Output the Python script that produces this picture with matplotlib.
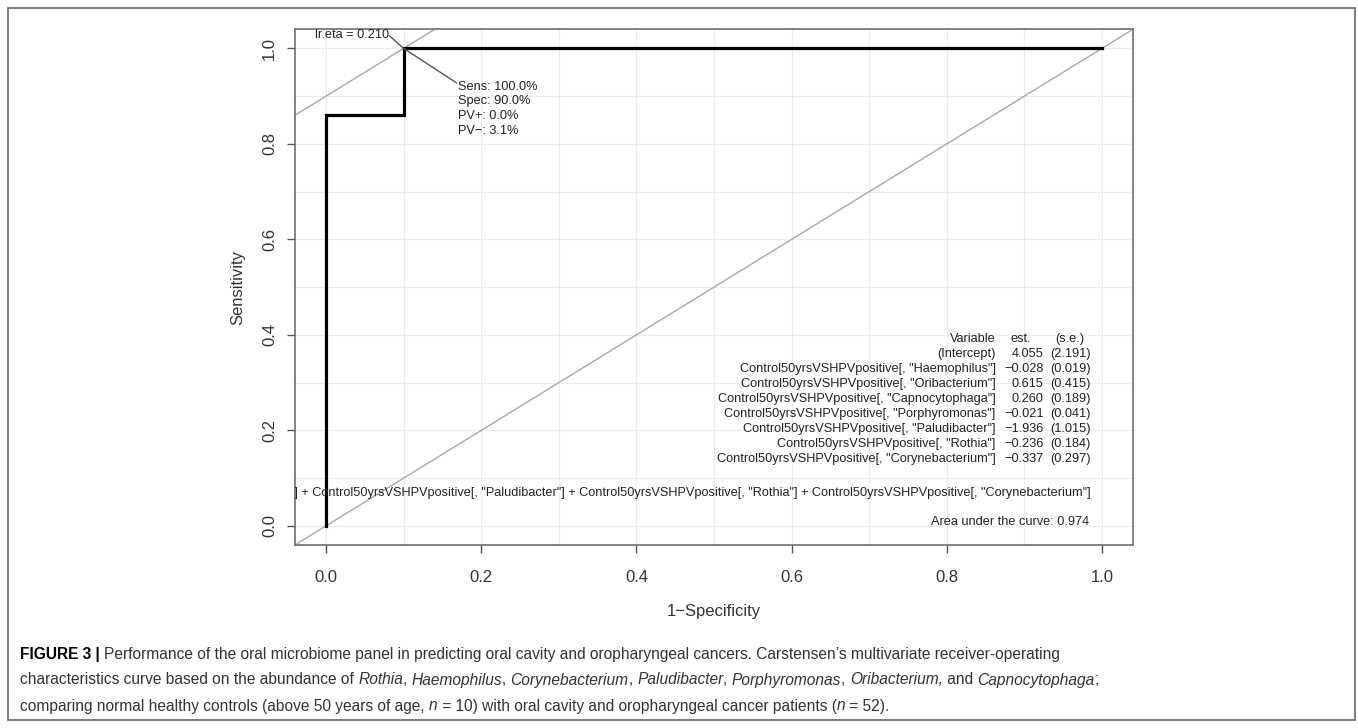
import numpy as np
import matplotlib
matplotlib.use("Agg")
import matplotlib.pyplot as plt
from matplotlib.patches import Rectangle
from matplotlib.ticker import MultipleLocator, FormatStrFormatter

plt.rcParams['font.family'] = ['Liberation Sans', 'DejaVu Sans']

# ROC curve (1-specificity, sensitivity)
fpr = [0.0, 0.0, 0.1, 0.1, 1.0]
tpr = [0.0, 0.86, 0.86, 1.0, 1.0]

# optimal cut point
opt_x, opt_y = 0.1, 1.0
lr_eta = "lr.eta = 0.210"
opt_stats = ["Sens: 100.0%", "Spec: 90.0%", "PV+: 0.0%", "PV\u2212: 3.1%"]

# model table
variables = ['(Intercept)',
             'Control50yrsVSHPVpositive[, "Haemophilus"]',
             'Control50yrsVSHPVpositive[, "Oribacterium"]',
             'Control50yrsVSHPVpositive[, "Capnocytophaga"]',
             'Control50yrsVSHPVpositive[, "Porphyromonas"]',
             'Control50yrsVSHPVpositive[, "Paludibacter"]',
             'Control50yrsVSHPVpositive[, "Rothia"]',
             'Control50yrsVSHPVpositive[, "Corynebacterium"]']
est = ["4.055", "\u22120.028", "0.615", "0.260", "\u22120.021", "\u22121.936", "\u22120.236", "\u22120.337"]
se = ["(2.191)", "(0.019)", "(0.415)", "(0.189)", "(0.041)", "(1.015)", "(0.184)", "(0.297)"]
auc = "Area under the curve: 0.974"
formula = " + ".join(variables[1:])

W, H = 1358, 728
fig = plt.figure(figsize=(W / 100, H / 100), dpi=100)

# outer frame
fig.patches.append(Rectangle((8 / W, 1 - 720 / H), (1355 - 8) / W, (720 - 8) / H,
                             transform=fig.transFigure, fill=False,
                             edgecolor='#666666', lw=1.2))

ax = fig.add_axes([295 / W, 1 - 545 / H, (1133 - 295) / W, (545 - 29.3) / H])
ax.set_xlim(-0.04, 1.04)
ax.set_ylim(-0.04, 1.04)

ax.xaxis.set_major_locator(MultipleLocator(0.2))
ax.yaxis.set_major_locator(MultipleLocator(0.2))
ax.xaxis.set_minor_locator(MultipleLocator(0.1))
ax.yaxis.set_minor_locator(MultipleLocator(0.1))
ax.xaxis.set_major_formatter(FormatStrFormatter('%.1f'))
ax.yaxis.set_major_formatter(FormatStrFormatter('%.1f'))
ax.grid(which='both', color='#ececec', lw=0.8)
ax.set_axisbelow(True)
ax.tick_params(which='minor', length=0)
ax.tick_params(which='major', length=6, width=1, color='#555555',
               labelsize=12, labelcolor='#333333')
ax.tick_params(axis='x', pad=12)
ax.tick_params(axis='y', pad=7)
for lab in ax.get_yticklabels():
    lab.set_rotation(90)
    lab.set_va('center')
for s in ax.spines.values():
    s.set_color('#707070')
    s.set_linewidth(1.2)

ax.set_xlabel("1\u2212Specificity", fontsize=12, color='#333333', labelpad=14)
ax.set_ylabel("Sensitivity", fontsize=12, color='#333333', labelpad=12)

# reference lines
ax.axline((0, 0), slope=1, color='#a8a8a8', lw=1)
ax.axline((opt_x, opt_y), slope=1, color='#a8a8a8', lw=1)

ax.plot(fpr, tpr, color='black', lw=2.3, solid_joinstyle='miter')

fs = 9.2
tc = '#222222'

# optimum annotations
ax.plot([0.082, opt_x, 0.168], [1.026, opt_y, 0.928], color='#555555', lw=1)
ax.text(0.081, 1.029, lr_eta, ha='right', va='center', fontsize=fs, color=tc)
for i, s in enumerate(opt_stats):
    ax.text(0.170, 0.920 - i * 0.031, s, ha='left', va='center', fontsize=fs, color=tc)

# table
ty = 0.391
dy = 0.0314
ax.text(0.863, ty, "Variable", ha='right', va='center', fontsize=fs, color=tc)
ax.text(0.895, ty, "est.", ha='center', va='center', fontsize=fs, color=tc)
ax.text(0.958, ty, "(s.e.)", ha='center', va='center', fontsize=fs, color=tc)
for i in range(len(variables)):
    yy = ty - (i + 1) * dy
    ax.text(0.863, yy, variables[i], ha='right', va='center', fontsize=fs, color=tc)
    ax.text(0.925, yy, est[i], ha='right', va='center', fontsize=fs, color=tc)
    ax.text(0.986, yy, se[i], ha='right', va='center', fontsize=fs, color=tc)

ax.text(0.986, 0.0686, formula, ha='right', va='center', fontsize=fs,
        color=tc, clip_on=True)
ax.text(0.983, 0.008, auc, ha='right', va='center', fontsize=fs, color=tc)

# caption with mixed styles
caption = [
    [("FIGURE 3 | ", 'bold', 'normal'),
     ("Performance of the oral microbiome panel in predicting oral cavity and oropharyngeal "
      "cancers. Carstensen\u2019s multivariate receiver-operating", 'normal', 'normal')],
    [("characteristics curve based on the abundance of ", 'normal', 'normal'),
     ("Rothia", 'normal', 'italic'), (", ", 'normal', 'normal'),
     ("Haemophilus", 'normal', 'italic'), (", ", 'normal', 'normal'),
     ("Corynebacterium", 'normal', 'italic'), (", ", 'normal', 'normal'),
     ("Paludibacter", 'normal', 'italic'), (", ", 'normal', 'normal'),
     ("Porphyromonas", 'normal', 'italic'), (", ", 'normal', 'normal'),
     ("Oribacterium,", 'normal', 'italic'), (" and ", 'normal', 'normal'),
     ("Capnocytophaga", 'normal', 'italic'), (";", 'normal', 'normal')],
    [("comparing normal healthy controls (above 50 years of age, ", 'normal', 'normal'),
     ("n", 'normal', 'italic'),
     (" = 10) with oral cavity and oropharyngeal cancer patients (", 'normal', 'normal'),
     ("n", 'normal', 'italic'), (" = 52).", 'normal', 'normal')],
]
cap_y = [654, 680, 706]
cap_size = 11.2

fig.canvas.draw()
renderer = fig.canvas.get_renderer()


def text_width(s, weight, style):
    t = fig.text(0, 0, s + "|", fontsize=cap_size, weight=weight, style=style)
    t2 = fig.text(0, 0, "|", fontsize=cap_size, weight=weight, style=style)
    w = t.get_window_extent(renderer).width - t2.get_window_extent(renderer).width
    t.remove()
    t2.remove()
    return w


for line, py in zip(caption, cap_y):
    px = 20
    for s, weight, style in line:
        color = 'black' if weight == 'bold' else '#333333'
        fig.text(px / W, 1 - py / H, s, fontsize=cap_size, weight=weight,
                 style=style, color=color, ha='left', va='center')
        px += text_width(s, weight, style)

fig.savefig("out.png", dpi=100)
